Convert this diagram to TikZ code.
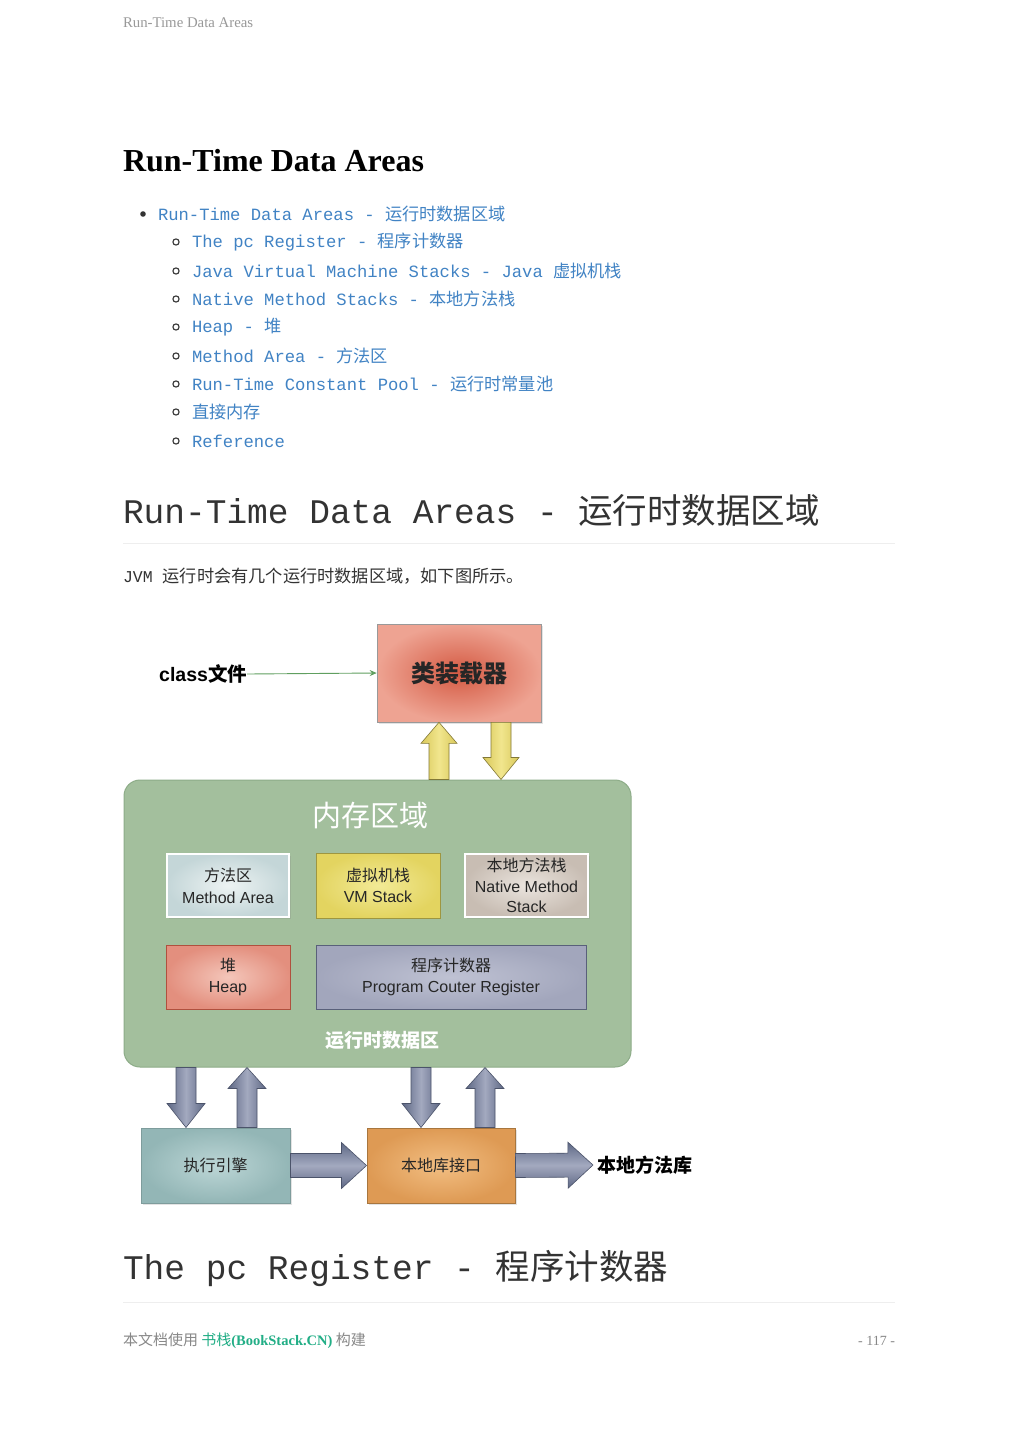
\documentclass[tikz,border=0pt]{standalone}
\usepackage{fontspec}
\setmainfont{Liberation Serif}
\newfontfamily\mono{Liberation Mono}
\newfontfamily\cjk{Noto Sans CJK SC}
\newfontfamily\sans{Liberation Sans}
\usetikzlibrary{calc,arrows.meta,shadows}
\newcommand\fsz[2]{\fontsize{#1}{#2}\selectfont}
\definecolor{hdrgray}{HTML}{999999}
\definecolor{linkblue}{HTML}{4183C4}
\definecolor{txt}{HTML}{333333}
\definecolor{rulec}{HTML}{EEEEEE}
\definecolor{foot}{HTML}{888888}
\definecolor{footgreen}{HTML}{22AE86}
\definecolor{memfill}{HTML}{A3BF9D}
\definecolor{memdraw}{HTML}{8DAC88}
\definecolor{ylwE}{HTML}{D9C85A}
\definecolor{ylwC}{HTML}{F1E68E}
\definecolor{gE}{HTML}{5E6885}
\definecolor{gC}{HTML}{A3A9BF}
\definecolor{ldrIn}{HTML}{D45A43}
\definecolor{ldrOut}{HTML}{EEA392}
\definecolor{maIn}{HTML}{EDF3F3}
\definecolor{maOut}{HTML}{C4D6D8}
\definecolor{vmIn}{HTML}{F2EA96}
\definecolor{vmOut}{HTML}{E3D460}
\definecolor{vmDraw}{HTML}{9E9640}
\definecolor{nmIn}{HTML}{EAE4DE}
\definecolor{nmOut}{HTML}{C8BDB3}
\definecolor{hpIn}{HTML}{F4C6BA}
\definecolor{hpOut}{HTML}{E38F7E}
\definecolor{hpDraw}{HTML}{B0503E}
\definecolor{pcIn}{HTML}{BFC2D3}
\definecolor{pcOut}{HTML}{A2A6BC}
\definecolor{pcDraw}{HTML}{59607A}
\definecolor{enIn}{HTML}{BCD6D6}
\definecolor{enOut}{HTML}{93B6B6}
\definecolor{enDraw}{HTML}{7E9C9C}
\definecolor{niIn}{HTML}{F2BE82}
\definecolor{niOut}{HTML}{DE9A54}
\definecolor{niDraw}{HTML}{A8763E}
\newcommand\barrow[6]{%
  \path[#1] let \p1=(#2), \p2=(#3),
    \n1={veclen(\x2-\x1,\y2-\y1)},
    \n2={(\x2-\x1)/\n1}, \n3={(\y2-\y1)/\n1} in
    ({\x1-#4*\n3},{\y1+#4*\n2})
    -- ({\x2-#6*\n2-#4*\n3},{\y2-#6*\n3+#4*\n2})
    -- ({\x2-#6*\n2-#5*\n3},{\y2-#6*\n3+#5*\n2})
    -- (\x2,\y2)
    -- ({\x2-#6*\n2+#5*\n3},{\y2-#6*\n3-#5*\n2})
    -- ({\x2-#6*\n2+#4*\n3},{\y2-#6*\n3-#4*\n2})
    -- ({\x1+#4*\n3},{\y1-#4*\n2}) -- cycle;}
\begin{document}
\begin{tikzpicture}[x=1pt,y=-1pt,
  lbl/.style={anchor=west, inner sep=0pt, outer sep=0pt},
  item/.style={lbl, text=linkblue, font=\fsz{17.2}{20}\mono},
  dot/.style={fill=txt, draw=none},
  circ/.style={draw=txt, line width=1.1pt, fill=none},
  rulel/.style={draw=rulec, line width=1pt},
  shad/.style={drop shadow={opacity=0.22, shadow xshift=2pt, shadow yshift=-2pt}},
  dbox/.style={inner sep=0pt, align=center, text=black!85, font=\fsz{16}{21}},
  yarrow/.style={draw=ylwE!60!black, line width=0.6pt, left color=ylwE, right color=ylwE, middle color=ylwC},
  garrowv/.style={draw=gE!80!black, line width=0.6pt, left color=gE, right color=gE, middle color=gC},
  garrowh/.style={draw=gE!80!black, line width=0.6pt, top color=gE, bottom color=gE, middle color=gC}
]
\useasboundingbox (0,0) rectangle (1019,1440);
\fill[white] (0,0) rectangle (1019,1440);

% header
\node[lbl, text=hdrgray, font=\fsz{14.8}{18}] (hdr) at (123,23) {Run-Time Data Areas};
% title
\node[lbl, text=black, font=\fsz{32}{36}\bfseries] (title) at (123,161) {Run-Time Data Areas};

% list
\fill[dot] (143,214) circle (2.8);
\node[item] (i0) at (158,214) {Run-Time Data Areas - \cjk 运行时数据区域};
\foreach \yy in {242,271,299,327,356,384,412,441} \draw[circ] (176,\yy) circle (3.1);
\node[item] (i1) at (192,242) {The pc Register - \cjk 程序计数器};
\node[item] (i2) at (192,271) {Java Virtual Machine Stacks - Java \cjk 虚拟机栈};
\node[item] (i3) at (192,299) {Native Method Stacks - \cjk 本地方法栈};
\node[item] (i4) at (192,327) {Heap - \cjk 堆};
\node[item] (i5) at (192,356) {Method Area - \cjk 方法区};
\node[item] (i6) at (192,384) {Run-Time Constant Pool - \cjk 运行时常量池};
\node[item] (i7) at (192,412) {\cjk 直接内存};
\node[item] (i8) at (192,441) {Reference};

% h2
\node[lbl, text=txt, font=\fsz{34.5}{40}\mono] (h2a) at (123,510) {Run-Time Data Areas - \cjk 运行时数据区域};
\draw[rulel] (123,543) -- (895,543);
\node[lbl, text=txt, font=\fsz{16.5}{20}\mono] (para) at (123,576) {JVM {\fsz{17.2}{20}\cjk 运行时会有几个运行时数据区域，如下图所示。}};

% ===== diagram =====
\node[draw=black!40, line width=0.6pt, inner color=ldrIn, outer color=ldrOut,
      minimum width=164pt, minimum height=98pt, shad] (loader) at (459,673) {};
\node[text=black!85, font=\fsz{24}{28}\cjk\bfseries] (loadertxt) at (loader.center) {类装载器};
\node[lbl, anchor=east, text=black, font=\fsz{19.5}{22}\sans\bfseries] (cls) at (247,674) {class\cjk\bfseries 文件};
\draw[draw=green!25!gray, line width=0.9pt, -{Stealth[length=7pt,width=6pt]}] (cls.east) -- (loader.west);

\node[draw=memdraw, line width=1pt, fill=memfill, rounded corners=16pt,
      minimum width=507pt, minimum height=287pt] (mem) at (377.5,923.5) {};

\barrow{yarrow}{439,0 |- mem.north}{439,0 |- loader.south}{10}{18}{21}
\barrow{yarrow}{501,0 |- loader.south}{501,0 |- mem.north}{10}{18}{22}

\node[text=white, font=\fsz{29}{32}\cjk] (memtitle) at (370,815) {内存区域};

\node[dbox, draw=white, line width=2.5pt, inner color=maIn, outer color=maOut,
      minimum width=122pt, minimum height=63pt, shad] (ma) at (228,885.5)
      {{\cjk 方法区}\\[1pt]{\sans Method Area}};
\node[dbox, draw=vmDraw, line width=1pt, inner color=vmIn, outer color=vmOut,
      minimum width=124pt, minimum height=65pt] (vms) at (378,885.5)
      {{\cjk 虚拟机栈}\\{\sans VM Stack}};
\node[dbox, draw=white, line width=2.5pt, inner color=nmIn, outer color=nmOut,
      minimum width=123pt, minimum height=63pt, font=\fsz{16}{20.5}, shad] (nms) at (526.5,885.5)
      {{\cjk 本地方法栈}\\{\sans Native Method}\\{\sans Stack}};
\node[dbox, draw=hpDraw, line width=1pt, inner color=hpIn, outer color=hpOut,
      minimum width=124pt, minimum height=64pt] (heap) at (228,977)
      {{\cjk 堆}\\{\sans Heap}};
\node[dbox, draw=pcDraw, line width=1pt, inner color=pcIn, outer color=pcOut,
      minimum width=270pt, minimum height=64pt] (pc) at (451,977)
      {{\cjk 程序计数器}\\{\sans Program Couter Register}};
\node[text=white, font=\fsz{19}{22}\cjk\bfseries] (rtlabel) at (382,1040) {运行时数据区};

% bottom boxes
\node[dbox, draw=enDraw, line width=1pt, inner color=enIn, outer color=enOut,
      minimum width=149pt, minimum height=75pt, shad] (engine) at (215.5,1165.5) {\cjk 执行引擎};
\node[dbox, draw=niDraw, line width=1pt, inner color=niIn, outer color=niOut,
      minimum width=148pt, minimum height=75pt, shad] (nif) at (441,1165.5) {\cjk 本地库接口};
\node[lbl, text=black, font=\fsz{19}{22}\cjk\bfseries] (nlib) at (597,1165) {本地方法库};
\coordinate (nlibtip) at ([xshift=-4pt]nlib.west);

\barrow{garrowv}{186,0 |- mem.south}{186,0 |- engine.north}{10}{19}{24}
\barrow{garrowv}{247,0 |- engine.north}{247,0 |- mem.south}{10}{19}{21}
\barrow{garrowv}{421,0 |- mem.south}{421,0 |- nif.north}{10}{19}{24}
\barrow{garrowv}{485,0 |- nif.north}{485,0 |- mem.south}{10}{19}{21}
\barrow{garrowh}{engine.east}{nif.west}{12}{23}{25}
\barrow{garrowh}{nif.east}{nlibtip}{12}{23}{25}

% h2 second
\node[lbl, text=txt, font=\fsz{34.5}{40}\mono] (h2b) at (123,1268) {The pc Register - \cjk 程序计数器};
\draw[rulel] (123,1302) -- (895,1302);

% footer
\node[lbl, text=foot, font=\fsz{15}{18}] (footl) at (123,1341)
  {\cjk 本文档使用 \textcolor{footgreen}{书栈{\rmfamily\fsz{14.5}{18}\bfseries (BookStack.CN)}} 构建};
\node[lbl, anchor=east, text=foot, font=\fsz{14}{18}] (footr) at (895,1341) {- 117 -};
\end{tikzpicture}
\end{document}
